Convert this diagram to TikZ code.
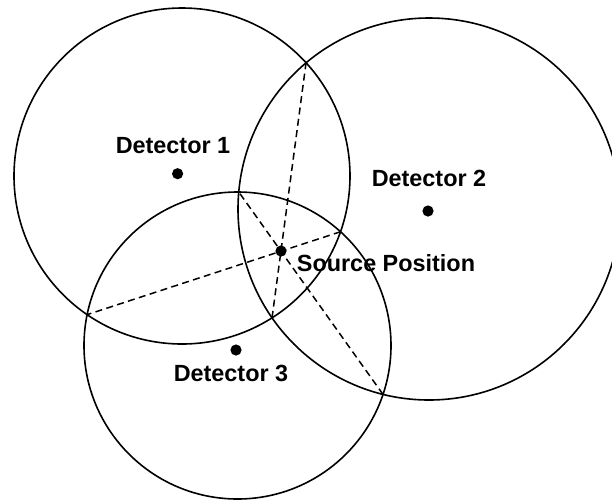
\documentclass[tikz,border=0pt]{standalone}
\usepackage{fontspec}
\setmainfont{Liberation Sans}
\usetikzlibrary{intersections}
\tikzset{
  det/.style={circle,fill,inner sep=0pt,minimum size=5.6pt},
  lbl/.style={font=\fontsize{11.7}{14}\selectfont\bfseries,inner sep=0pt},
  ring/.style={line width=0.8pt},
  chord/.style={line width=0.75pt,dash pattern=on 3.5pt off 2.2pt}
}
\begin{document}
\begin{tikzpicture}[x=0.5pt,y=-0.5pt]
  \useasboundingbox (0,0) rectangle (612,500);
  % range circles
  \draw[ring,name path=r1] (182,176) circle (168);
  \draw[ring,name path=r2] (429,209) circle (191);
  \draw[ring,name path=r3] (237.5,345.5) circle (153.5);
  % common chords
  \path[name intersections={of=r1 and r2,by={p1,q1}}];
  \path[name intersections={of=r1 and r3,by={p2,q2}}];
  \path[name intersections={of=r2 and r3,by={p3,q3}}];
  \begin{scope}[chord]
    \draw (p1) -- (q1);
    \draw (p2) -- (q2);
    \draw (p3) -- (q3);
  \end{scope}
  \node[det] (d1) at (177.6,173.7) {};
  \node[det] (d2) at (428,211) {};
  \node[det] (d3) at (236,350) {};
  \node[det] (src) at (281,251) {};
  \node[lbl] (l1) at (173,146) {Detector 1};
  \node[lbl] (l2) at (429,178) {Detector 2};
  \node[lbl] (l3) at (231,373.5) {Detector 3};
  \node[lbl] (ls) at (386,263.5) {Source Position};
\end{tikzpicture}
\end{document}
